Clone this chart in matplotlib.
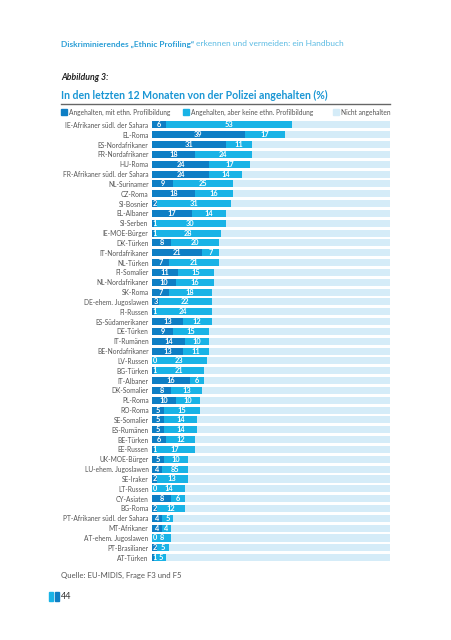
# plot.py - Abbildung 3: In den letzten 12 Monaten von der Polizei angehalten (%)
import numpy as np
import matplotlib.pyplot as plt
from matplotlib.patches import Rectangle

plt.rcParams['font.family'] = ['Lato', 'DejaVu Sans']

# data
groups = [
    'IE-Afrikaner südl. der Sahara', 'EL-Roma', 'ES-Nordafrikaner', 'FR-Nordafrikaner',
    'HU-Roma', 'FR-Afrikaner südl. der Sahara', 'NL-Surinamer', 'CZ-Roma', 'SI-Bosnier',
    'EL-Albaner', 'SI-Serben', 'IE-MOE-Bürger', 'DK-Türken', 'IT-Nordafrikaner', 'NL-Türken',
    'FI-Somalier', 'NL-Nordafrikaner', 'SK-Roma', 'DE-ehem. Jugoslawen', 'FI-Russen',
    'ES-Südamerikaner', 'DE-Türken', 'IT-Rumänen', 'BE-Nordafrikaner', 'LV-Russen',
    'BG-Türken', 'IT-Albaner', 'DK-Somalier', 'PL-Roma', 'RO-Roma', 'SE-Somalier',
    'ES-Rumänen', 'BE-Türken', 'EE-Russen', 'UK-MOE-Bürger', 'LU-ehem. Jugoslawen',
    'SE-Iraker', 'LT-Russen', 'CY-Asiaten', 'BG-Roma', 'PT-Afrikaner südl. der Sahara',
    'MT-Afrikaner', 'AT-ehem. Jugoslawen', 'PT-Brasilianer', 'AT-Türken',
]
profiling = [6, 39, 31, 18, 24, 24, 9, 18, 2, 17, 1, 1, 8, 21, 7, 11, 10, 7, 3, 1,
             13, 9, 14, 13, 0, 1, 16, 8, 10, 5, 5, 5, 6, 1, 5, 4, 2, 0, 8, 2, 4, 4, 0, 2, 1]
no_profiling = [53, 17, 11, 24, 17, 14, 25, 16, 31, 14, 30, 28, 20, 7, 21, 15, 16, 18, 22, 24,
                12, 15, 10, 11, 23, 21, 6, 13, 10, 15, 14, 14, 12, 17, 10, 11, 13, 14, 6, 12,
                5, 4, 8, 5, 5]
# the source prints "85" for LU-ehem. Jugoslawen although the bar is much shorter
label_fix = {'LU-ehem. Jugoslawen': '85'}

legend_labels = ['Angehalten, mit ethn. Profilbildung',
                 'Angehalten, aber keine ethn. Profilbildung',
                 'Nicht angehalten']

c_dark = '#0e7ec4'
c_mid = '#19b3e6'
c_light = '#d5ecf8'
c_text = '#555555'
c_title = '#1a96d4'

fig = plt.figure(figsize=(4.51, 6.4), dpi=100)
ax = fig.add_axes([0.337, 0.121, 0.528, 0.6915])

y = np.arange(len(groups))
a = np.array(profiling)
b = np.array(no_profiling)
rest = 100 - a - b
h = 0.72
ax.barh(y, a, height=h, color=c_dark)
ax.barh(y, b, left=a, height=h, color=c_mid)
ax.barh(y, rest, left=a + b, height=h, color=c_light)

# value labels inside the bars
for i, g in enumerate(groups):
    for left, val in [(0, a[i]), (a[i], b[i])]:
        txt = label_fix.get(g, str(val)) if left else str(val)
        if val < 3:
            ax.text(left + 0.2, i, txt, ha='left', va='center', color='white',
                    fontsize=5.3, fontweight='bold')
        else:
            ax.text(left + val / 2, i, txt, ha='center', va='center', color='white',
                    fontsize=5.3, fontweight='bold')

ax.set_xlim(0, 100)
ax.set_ylim(len(groups) - 0.5, -0.5)
ax.set_yticks(y)
ax.set_yticklabels(groups, fontsize=4.8, color=c_text)
ax.tick_params(axis='y', length=0, pad=2.5)
ax.set_xticks([])
for s in ax.spines.values():
    s.set_visible(False)

# page header, titles, legend, footer
r = fig.canvas.get_renderer()
head = fig.text(61 / 451, 1 - 44 / 640, 'Diskriminierendes „Ethnic Profiling“ ', fontsize=6.0,
                fontweight='bold', color='#2a9ed6', va='center')
hx = head.get_window_extent(r).x1 / fig.bbox.width
fig.text(hx, 1 - 44 / 640, 'erkennen und vermeiden: ein Handbuch', fontsize=6.0,
         color='#5bbbe3', va='center')
fig.text(61 / 451, 1 - 77 / 640, 'Abbildung 3:', fontsize=6.3, fontweight='bold',
         style='italic', color='#222222', va='center')
fig.text(61 / 451, 1 - 95 / 640, 'In den letzten 12 Monaten von der Polizei angehalten (%)',
         fontsize=7.6, fontweight='bold', color=c_title, va='center')
fig.add_artist(plt.Line2D([61 / 451, 390 / 451], [1 - 103.5 / 640, 1 - 103.5 / 640],
                          color='#666666', lw=1.0))

leg_x = [61, 183, 333]
for x0, lab, col in zip(leg_x, legend_labels, [c_dark, c_mid, c_light]):
    fig.add_artist(Rectangle((x0 / 451, 1 - 115 / 640), 6 / 451, 6 / 640,
                             color=col, transform=fig.transFigure))
    fig.text((x0 + 8) / 451, 1 - 112 / 640, lab, fontsize=4.8, color=c_text, va='center')

fig.text(61 / 451, 1 - 575 / 640, 'Quelle: EU-MIDIS, Frage F3 und F5', fontsize=5.6,
         color=c_text, va='center')
fig.add_artist(Rectangle((49 / 451, 1 - 601 / 640), 4 / 451, 9 / 640,
                         color=c_mid, transform=fig.transFigure))
fig.add_artist(Rectangle((55 / 451, 1 - 601 / 640), 4 / 451, 9 / 640,
                         color=c_dark, transform=fig.transFigure))
fig.text(61 / 451, 1 - 596.5 / 640, '44', fontsize=6.5, color='#333333', va='center')

fig.savefig('out.png', dpi=100)
